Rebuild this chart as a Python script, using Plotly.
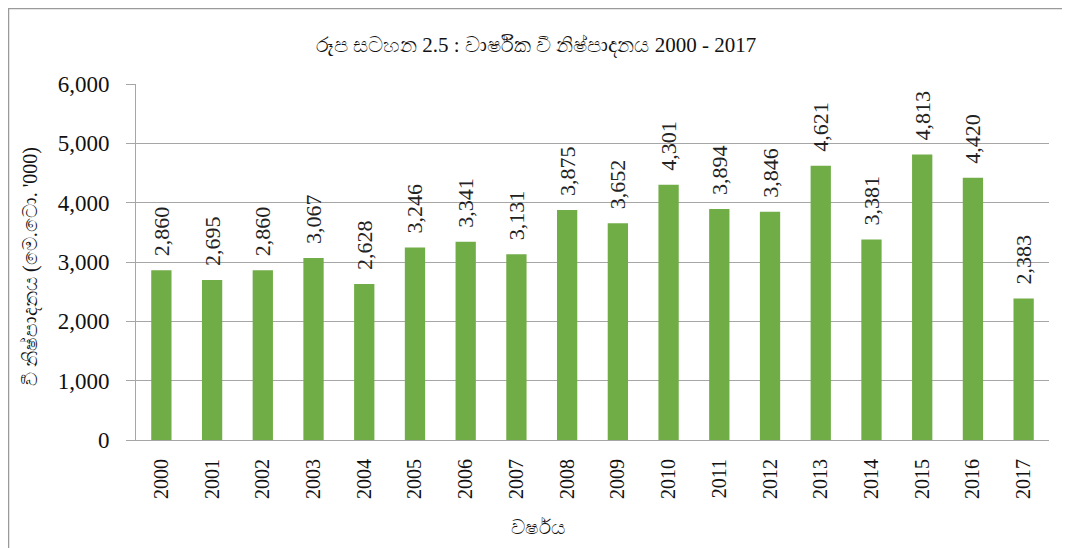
import plotly.graph_objects as go

years = [str(y) for y in range(2000, 2018)]
production = [2860, 2695, 2860, 3067, 2628, 3246, 3341, 3131, 3875, 3652,
              4301, 3894, 3846, 4621, 3381, 4813, 4420, 2383]
y_ticks = [0, 1000, 2000, 3000, 4000, 5000, 6000]
y_tick_labels = ["0", "1,000", "2,000", "3,000", "4,000", "5,000", "6,000"]

title_text = "රූප සටහන 2.5 : වාර්ෂික වී නිෂ්පාදනය 2000 - 2017"
y_title = "වී නිෂ්පාදනය (මෙ.ටො. '000)"
x_title = "වර්ෂය"

serif = "Liberation Serif, Times New Roman, serif"

W, H = 1070, 548
L, R, T, B = 128, 29, 76, 116
PW, PH = W - L - R, H - T - B


def px_x(x):
    return (x - L) / PW


def px_y(y):
    return (H - B - y) / PH


fig = go.Figure()
fig.add_trace(go.Bar(
    x=years, y=production,
    marker=dict(color="#70AD47", line=dict(width=0)),
    width=0.4,
    text=["\u00a0\u00a0" + f"{v:,}" for v in production],
    textposition="outside",
    textangle=-90,
    constraintext="none",
    cliponaxis=False,
    textfont=dict(family=serif, size=22, color="#222222"),
))

fig.update_layout(
    width=W, height=H,
    margin=dict(l=L, r=R, t=T, b=B),
    paper_bgcolor="white", plot_bgcolor="white",
    showlegend=False,
    title=dict(text=title_text, x=528 / W, xanchor="center", y=1 - 37 / H, yanchor="middle",
               font=dict(family=serif, size=21, color="#111111")),
    xaxis=dict(
        type="category",
        tickangle=-90,
        tickfont=dict(family=serif, size=20, color="#111111"),
        showline=True, linecolor="#A6A6A6", linewidth=1,
        ticks="", showgrid=False,
        ticklabelstandoff=10,
    ),
    yaxis=dict(
        range=[0, 6000],
        tickvals=y_ticks, ticktext=y_tick_labels,
        tickfont=dict(family=serif, size=23, color="#111111"),
        showgrid=True, gridcolor="#A6A6A6", gridwidth=1,
        showline=True, linecolor="#A6A6A6", linewidth=1,
        ticks="outside", ticklen=9, tickcolor="#A6A6A6",
        ticklabelstandoff=12,
        zeroline=False,
    ),
    bargap=0.6,
)

fig.add_annotation(text=x_title, xref="paper", yref="paper",
                   x=px_x(530), y=px_y(519), xanchor="center", yanchor="middle",
                   showarrow=False, font=dict(family=serif, size=20, color="#111111"))
fig.add_annotation(text=y_title, xref="paper", yref="paper", textangle=-90,
                   x=px_x(22), y=px_y(259), xanchor="center", yanchor="middle",
                   showarrow=False, font=dict(family=serif, size=20, color="#111111"))

fig.add_shape(type="rect", xref="paper", yref="paper",
              x0=px_x(0.5), x1=px_x(1060), y0=px_y(545), y1=px_y(0.5),
              line=dict(color="#9A9A9A", width=1.5), fillcolor="rgba(0,0,0,0)", layer="below")

fig.write_html("out.html")
